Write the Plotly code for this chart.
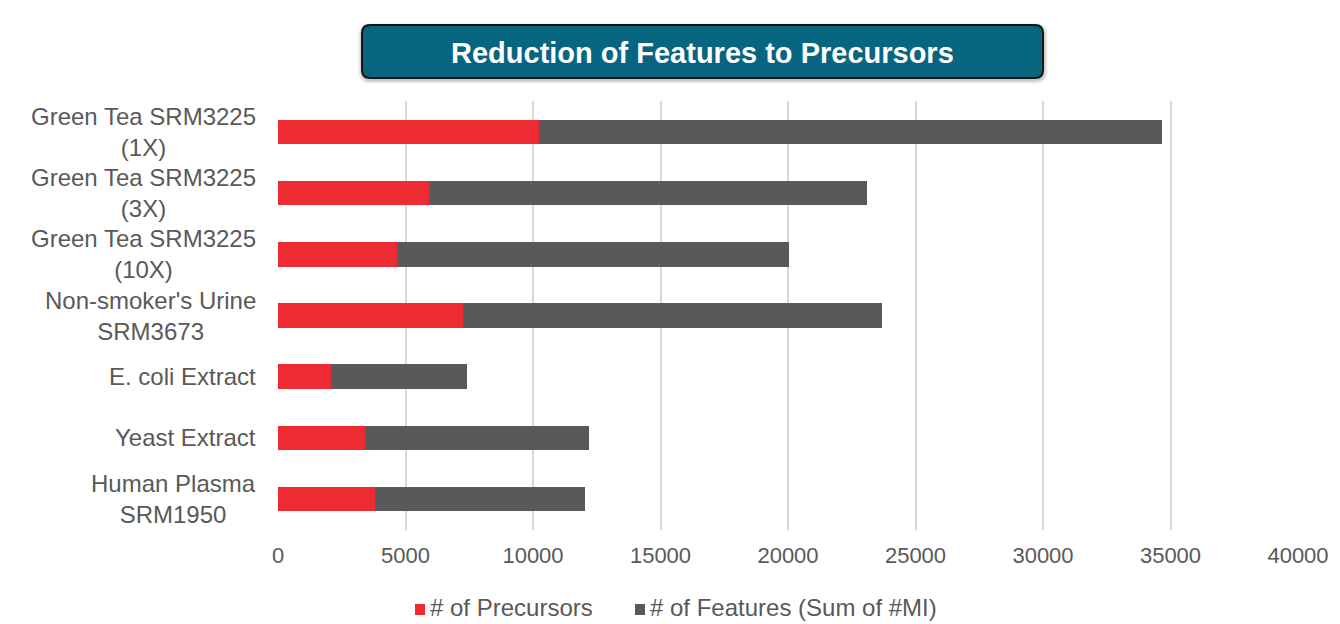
import plotly.graph_objects as go

# Sample names (top to bottom) and the two stacked series
categories = [
    "Green Tea SRM3225<br>(1X)",
    "Green Tea SRM3225<br>(3X)",
    "Green Tea SRM3225<br>(10X)",
    "Non-smoker's Urine<br>SRM3673",
    "E. coli Extract",
    "Yeast Extract",
    "Human Plasma<br>SRM1950",
]
precursors = [10250, 5930, 4670, 7250, 2090, 3430, 3820]
features = [24410, 17170, 15380, 16450, 5330, 8760, 8230]

x_ticks = [0, 5000, 10000, 15000, 20000, 25000, 30000, 35000, 40000]

series_names = ["# of Precursors", "# of Features (Sum of #MI)"]
colors = ["#ee2b33", "#58595b"]
title_text = "Reduction of Features to Precursors"

FONT = "Liberation Sans, Arial, sans-serif"
TEXT_COLOR = "#595959"

W, H = 1340, 624
M_L, M_R, M_T, M_B = 278, 42, 101, 94
PW = W - M_L - M_R
PH = H - M_T - M_B


def px_x(px):
    return (px - M_L) / PW


def px_y(py):
    return (H - M_B - py) / PH


def rounded_rect(x0, y0, x1, y1, r):
    pts = [
        ("M", [(x0 + r, y0)]),
        ("L", [(x1 - r, y0)]),
        ("Q", [(x1, y0), (x1, y0 + r)]),
        ("L", [(x1, y1 - r)]),
        ("Q", [(x1, y1), (x1 - r, y1)]),
        ("L", [(x0 + r, y1)]),
        ("Q", [(x0, y1), (x0, y1 - r)]),
        ("L", [(x0, y0 + r)]),
        ("Q", [(x0, y0), (x0 + r, y0)]),
    ]
    out = []
    for cmd, coords in pts:
        out.append(cmd + " ".join(f"{px_x(a):.5f},{px_y(b):.5f}" for a, b in coords))
    return " ".join(out) + " Z"


fig = go.Figure()
for name, vals, col in zip(series_names, [precursors, features], colors):
    fig.add_trace(go.Bar(
        y=categories, x=vals, orientation="h", name=name,
        marker=dict(color=col, line=dict(width=0)),
        showlegend=False,
    ))

annotations = []
shapes = []

# Category labels with centred lines
for cat in categories:
    annotations.append(dict(
        x=0, xref="paper", xshift=-20, xanchor="right",
        y=cat, yref="y", yanchor="middle",
        text=cat, showarrow=False, align="center",
        font=dict(family=FONT, size=24, color=TEXT_COLOR),
    ))

# Legend row below the axis: small square swatch followed by the series name
legend_left = [415, 635]
legend_cy = 607
for left, name, col in zip(legend_left, series_names, colors):
    shapes.append(dict(
        type="rect", xref="paper", yref="paper",
        x0=px_x(left), x1=px_x(left + 10),
        y0=px_y(legend_cy - 3), y1=px_y(legend_cy + 8),
        fillcolor=col, line=dict(width=0),
    ))
    annotations.append(dict(
        x=px_x(left + 14), y=px_y(legend_cy), xref="paper", yref="paper",
        xanchor="left", yanchor="middle", text=name, showarrow=False,
        borderpad=0,
        font=dict(family=FONT, size=24, color=TEXT_COLOR),
    ))

# Title banner with a soft drop shadow
bx0, by0, bx1, by1 = 362, 25, 1043, 78
for grow, alpha in [(5, 0.04), (4, 0.05), (3, 0.06), (2, 0.07)]:
    shapes.append(dict(
        type="path", xref="paper", yref="paper", layer="above",
        path=rounded_rect(bx0 - grow + 1, by0 - grow + 3, bx1 + grow, by1 + grow + 1, 8 + grow),
        fillcolor=f"rgba(0,0,0,{alpha})", line=dict(width=0),
    ))
shapes.append(dict(
    type="path", xref="paper", yref="paper", layer="above",
    path=rounded_rect(bx0, by0, bx1, by1, 8),
    fillcolor="#07657f", line=dict(color="#141414", width=2),
))
annotations.append(dict(
    x=px_x((bx0 + bx1) / 2), y=px_y((by0 + by1) / 2 + 1),
    xref="paper", yref="paper", xanchor="center", yanchor="middle",
    text=f"<b>{title_text}</b>", showarrow=False,
    font=dict(family=FONT, size=29, color="white"),
))

fig.update_layout(
    width=W, height=H,
    margin=dict(l=M_L, r=M_R, t=M_T, b=M_B, autoexpand=False),
    paper_bgcolor="white", plot_bgcolor="white",
    barmode="stack", bargap=0.6,
    showlegend=False,
    xaxis=dict(
        range=[0, 40000], tickvals=x_ticks, ticktext=[str(v) for v in x_ticks],
        showgrid=True, gridcolor="#d9d9d9", gridwidth=1.5,
        zeroline=False, showline=False, ticks="",
        tickfont=dict(family=FONT, size=22, color=TEXT_COLOR),
        ticklabelstandoff=10,
        fixedrange=True,
    ),
    yaxis=dict(
        autorange="reversed", showticklabels=False, showgrid=False,
        showline=False, ticks="", fixedrange=True,
    ),
    shapes=shapes,
    annotations=annotations,
)

fig.write_html("out.html")
